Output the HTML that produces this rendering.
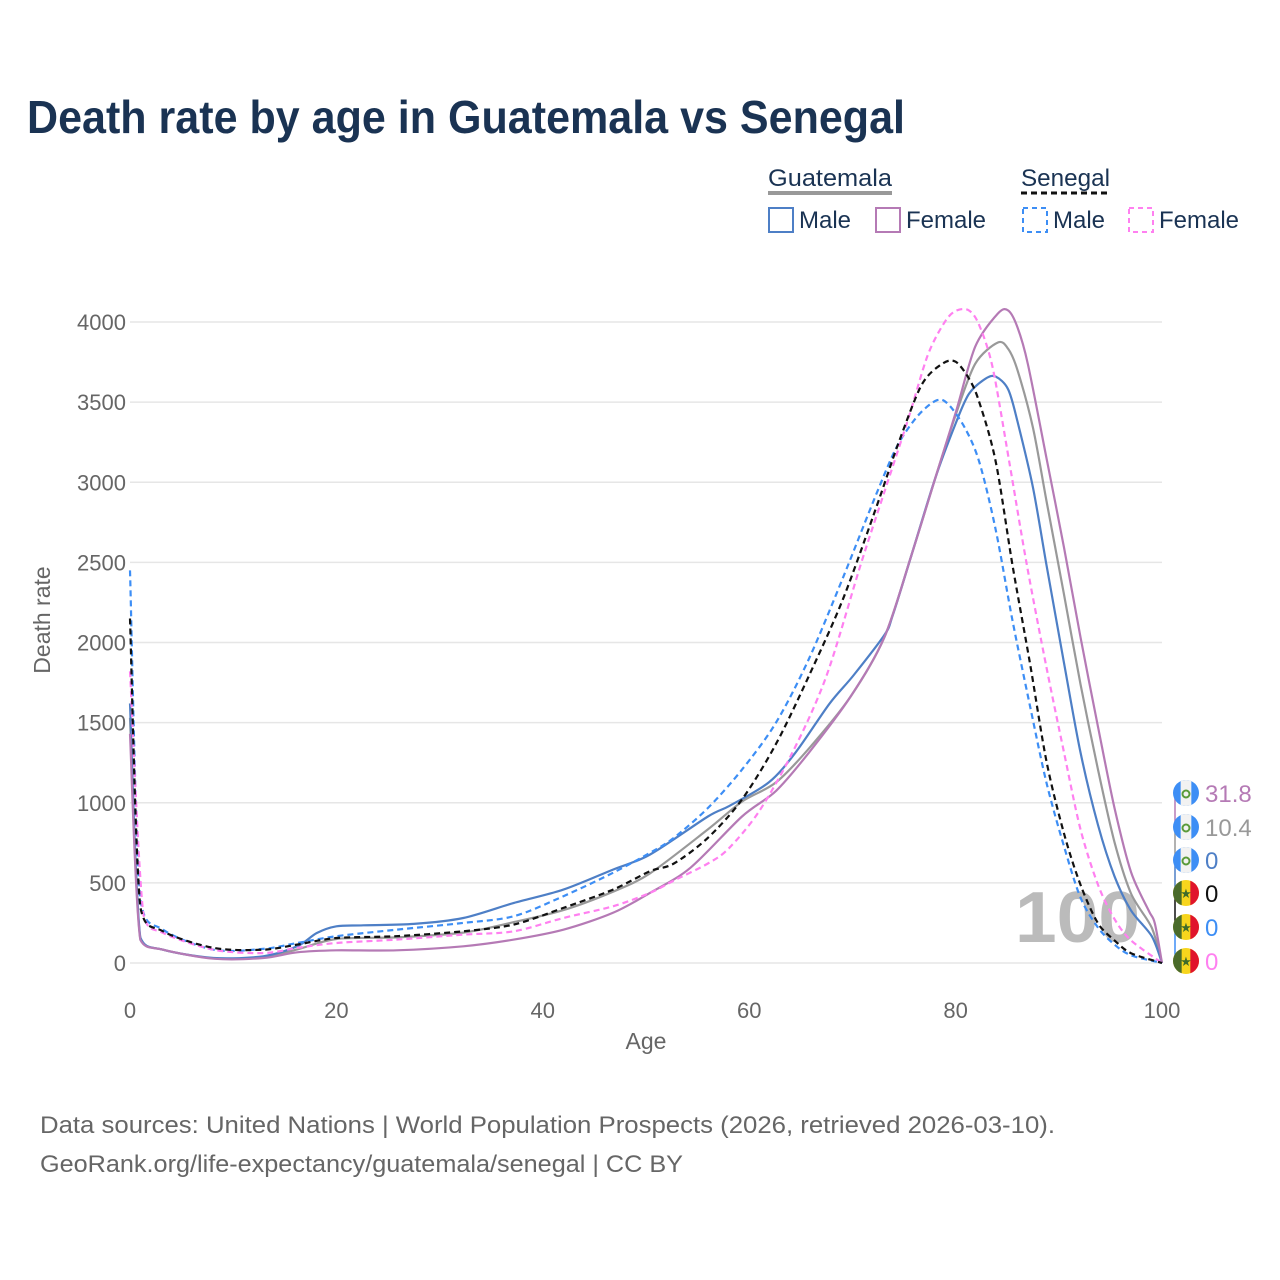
<!DOCTYPE html>
<html><head><meta charset="utf-8"><style>
html,body{margin:0;padding:0;background:#fff;}
svg{display:block;font-family:"Liberation Sans",sans-serif;}
</style></head><body>
<svg id="chart" width="1280" height="1280" viewBox="0 0 1280 1280" xmlns="http://www.w3.org/2000/svg">
<text x="27" y="133" font-size="46" font-weight="bold" fill="#1a3353" textLength="878" lengthAdjust="spacingAndGlyphs">Death rate by age in Guatemala vs Senegal</text>

<g>
<text x="768" y="186" font-size="24" fill="#1a3353" textLength="124" lengthAdjust="spacingAndGlyphs">Guatemala</text>
<line x1="768" y1="193" x2="892" y2="193" stroke="#999" stroke-width="4"/>
<text x="1021" y="186" font-size="24" fill="#1a3353" textLength="89" lengthAdjust="spacingAndGlyphs">Senegal</text>
<line x1="1021" y1="193" x2="1110" y2="193" stroke="#111" stroke-width="3" stroke-dasharray="6,4"/>
<g><rect x="769" y="208" width="24" height="24" fill="none" stroke="#4e7fc6" stroke-width="2"/><text x="799" y="228" font-size="24" fill="#1a3353">Male</text></g>
<g><rect x="876" y="208" width="24" height="24" fill="none" stroke="#b57ab5" stroke-width="2"/><text x="906" y="228" font-size="24" fill="#1a3353">Female</text></g>
<g><rect x="1023" y="208" width="24" height="24" fill="none" stroke="#3d8ef5" stroke-width="2" stroke-dasharray="5,4"/><text x="1053" y="228" font-size="24" fill="#1a3353">Male</text></g>
<g><rect x="1129" y="208" width="24" height="24" fill="none" stroke="#ff80f0" stroke-width="2" stroke-dasharray="5,4"/><text x="1159" y="228" font-size="24" fill="#1a3353">Female</text></g>
</g>

<g id="grid"></g>
<g id="yticks"></g>
<g id="xticks"></g>
<text transform="translate(50,620) rotate(-90)" text-anchor="middle" font-size="23" fill="#666">Death rate</text>
<text x="646" y="1049" text-anchor="middle" font-size="23" fill="#666">Age</text>
<text x="1015" y="942" font-size="72" font-weight="bold" fill="#bbb" textLength="125" lengthAdjust="spacingAndGlyphs">100</text>
<g id="lines"></g>
<g id="endlabels"></g>

<text x="40" y="1133" font-size="24" fill="#666" textLength="1015" lengthAdjust="spacingAndGlyphs">Data sources: United Nations | World Population Prospects (2026, retrieved 2026-03-10).</text>
<text x="40" y="1172" font-size="24" fill="#666" textLength="643" lengthAdjust="spacingAndGlyphs">GeoRank.org/life-expectancy/guatemala/senegal | CC BY</text>
</svg>
<script>
const yTicks=[0,500,1000,1500,2000,2500,3000,3500,4000];
const xTicks=[0,20,40,60,80,100];
const gmAges=[0,1,3.2,8.1,12.9,16.2,18.1,20,22.6,27.5,32.3,37.2,42,46.8,50.4,56,58.1,61.9,64.5,67.8,70.1,73.1,73.9,75.7,78,80,81.3,82.9,83.9,85.1,86,87.5,88.8,90.5,92.1,93.8,95.4,97,99,100];
const gmVals=[1620,160,83,31,42,104,187,229,235,244,281,375,458,583,677,914,981,1127,1314,1620,1794,2047,2167,2540,3020,3366,3552,3646,3659,3579,3379,2966,2486,1873,1314,861,541,328,168,0];
const gfAges=[0,1,3.2,8.1,12.9,16.2,20,25.8,32.3,37.2,42,46.8,50.4,54.3,59.3,62.6,65.8,69.8,73.1,75.7,78,80,81.9,84.1,85.1,86,87,88.8,90.5,92.1,93.8,95.4,97,98.7,99.3,100];
const gfVals=[1430,145,83,27,31,67,79,79,104,146,208,313,438,594,914,1074,1314,1660,2033,2540,3020,3432,3846,4053,4072,3966,3739,3153,2593,2033,1474,967,568,328,248,0];
const gtAges=[0,1,3.2,8.1,12.9,16.2,20,25.8,32.3,37.2,42,46.8,50.4,56,59.3,62.6,65.8,69.8,73.1,75.7,78,80,81.9,84.1,85.1,86,87.5,88.8,90.5,92.1,93.8,95.4,97,99,100];
const gtVals=[1530,152,83,29,37,85,150,160,190,255,330,445,560,834,1007,1127,1340,1660,2033,2540,3020,3419,3739,3872,3832,3699,3339,2886,2300,1740,1207,754,434,221,0];
const smAges=[0,1,3.2,8.1,12.9,16.2,20,25.8,32.3,37.2,42,46.8,50.4,52.7,56,59.3,62.6,65.8,69.1,72.4,74.4,76.4,78.2,79.3,80.9,82.3,83.9,85.5,87.2,88.8,90.5,92.1,93.8,95.4,97,100];
const smVals=[2450,400,208,83,88,125,167,208,250,292,417,563,688,781,967,1207,1500,1900,2406,2940,3233,3419,3512,3486,3339,3126,2700,2140,1607,1127,728,408,221,115,48,0];
const stAges=[0,1,3.2,8.1,12.9,16.2,20,25.8,32.3,37.2,42,46.8,50.4,52.7,56,59.3,62.6,65.8,69.1,72.4,74.4,76.7,78.7,80,81.3,82.3,83.9,85.5,87.2,88.8,90.5,92.1,93.8,95.4,97,100];
const stVals=[2150,350,198,94,83,115,156,167,198,240,344,458,573,621,781,1021,1367,1794,2273,2860,3233,3606,3739,3752,3646,3499,3126,2486,1873,1261,808,488,248,141,61,0];
const sfAges=[0,1.3,3.2,8.1,12.9,16.2,20,25.8,32.3,37.2,42,46.8,50.4,52.7,56,58,60.9,64.2,67.5,70.8,73.1,75.4,77.3,79,80.1,81.3,82.3,83.6,85.2,86.9,88.8,90.5,92.1,93.8,95.4,97,100];
const sfVals=[1820,302,188,83,62,94,125,146,177,198,281,354,438,514,621,714,941,1314,1794,2486,2940,3393,3792,4005,4072,4072,3979,3712,3126,2486,1847,1314,834,488,274,141,0];
const endLabels=["31.8","10.4","0","0","0","0"];

const NS="http://www.w3.org/2000/svg";
const X0=130,X1=1162,Y0=963,Y1=322;
const xs=a=>X0+(X1-X0)*a/100;
const ys=v=>Y0-(Y0-Y1)*v/4000;
function mk(tag,attrs,parent){const e=document.createElementNS(NS,tag);for(const k in attrs)e.setAttribute(k,attrs[k]);parent.appendChild(e);return e;}
const grid=document.getElementById('grid'),yt=document.getElementById('yticks'),xt=document.getElementById('xticks');
yTicks.forEach(v=>{
  const l=mk('line',{x1:X0,x2:X1,y1:ys(v),y2:ys(v),stroke:'#e6e6e6','stroke-width':1.5},grid);
  
  
  const t=mk('text',{x:126,y:ys(v)+8,'text-anchor':'end','font-size':22,fill:'#666'},yt);
  t.textContent=v;
  
  
});
xTicks.forEach(a=>{
  const t=mk('text',{x:xs(a),y:1018,'text-anchor':'middle','font-size':22,fill:'#666'},xt);
  t.textContent=a;
  
  
});
function pathD(ages,vals){
  const p=ages.map((a,i)=>[xs(a),ys(vals[i])]);
  let d='M'+p[0][0].toFixed(1)+','+p[0][1].toFixed(1);
  for(let i=0;i<p.length-1;i++){
    const p0=p[Math.max(0,i-1)],p1=p[i],p2=p[i+1],p3=p[Math.min(p.length-1,i+2)];
    const t=0.15;
    let c1y=p1[1]+(p2[1]-p0[1])*t, c2y=p2[1]-(p3[1]-p1[1])*t;
    const lo=Math.min(p1[1],p2[1]),hi=Math.max(p1[1],p2[1]);
    if(i<2){c1y=Math.min(Math.max(c1y,lo),hi);c2y=Math.min(Math.max(c2y,lo),hi);}
    d+=' C'+(p1[0]+(p2[0]-p0[0])*t).toFixed(1)+','+c1y.toFixed(1)+' '+(p2[0]-(p3[0]-p1[0])*t).toFixed(1)+','+c2y.toFixed(1)+' '+p2[0].toFixed(1)+','+p2[1].toFixed(1);
  }
  return d;
}
const lines=document.getElementById('lines');
const series=[
 ['line-guatemala-total',gtAges,gtVals,'#999',null],
 ['line-guatemala-male',gmAges,gmVals,'#4e7fc6',null],
 ['line-guatemala-female',gfAges,gfVals,'#b57ab5',null],
 ['line-senegal-male',smAges,smVals,'#3d8ef5','6,4'],
 ['line-senegal-female',sfAges,sfVals,'#ff80f0','6,4'],
 ['line-senegal-total',stAges,stVals,'#111','6,4']
];
series.forEach(s=>{
  const a={d:pathD(s[1],s[2]),fill:'none',stroke:s[3],'stroke-width':2.2,'stroke-linejoin':'round'};
  if(s[4])a['stroke-dasharray']=s[4];
  const p=mk('path',a,lines);
  
  
});
const el=document.getElementById('endlabels');
const labColors=['#b57ab5','#999','#4e7fc6','#111','#3d8ef5','#ff80f0'];
const labY=[793,827,860,893,927,961];
const isGt=[true,true,true,false,false,false];
labY.forEach((y,i)=>{
  mk('line',{x1:1175,x2:1175,y1:y,y2:i<5?labY[i+1]:963,stroke:labColors[i],'stroke-width':1.5},el);
  mk('line',{x1:1175,x2:1182,y1:y,y2:y,stroke:labColors[i],'stroke-width':1.5},el);
  const g=mk('g',{},el);
  
  
  const cx=1186,r=13;
  const cp='cp'+i;
  const c=mk('clipPath',{id:cp},g);mk('circle',{cx:cx,cy:y,r:r},c);
  const gg=mk('g',{'clip-path':'url(#'+cp+')'},g);
  if(isGt[i]){
    mk('rect',{x:cx-r,y:y-r,width:2*r,height:2*r,fill:'#3d8ef5'},gg);
    mk('rect',{x:cx-r/3-1,y:y-r,width:2*r/3+2,height:2*r,fill:'#f2f2f2'},gg);
    mk('circle',{cx:cx,cy:y+1,r:3.5,fill:'none',stroke:'#5a9a3a','stroke-width':2},gg);
  } else {
    mk('rect',{x:cx-r,y:y-r,width:2*r,height:2*r,fill:'#f7d51d'},gg);
    mk('rect',{x:cx-r,y:y-r,width:2*r/3,height:2*r,fill:'#4a6b2a'},gg);
    mk('rect',{x:cx+r/3,y:y-r,width:2*r/3,height:2*r,fill:'#e0142b'},gg);
    const st=mk('text',{x:cx,y:y+5,'text-anchor':'middle','font-size':13,fill:'#3f6b2a'},gg);st.textContent='★';
  }
  const t=mk('text',{x:1205,y:y+9,'font-size':24,fill:labColors[i]},el);
  t.textContent=endLabels[i];
  
  
});
</script>
</body></html>
